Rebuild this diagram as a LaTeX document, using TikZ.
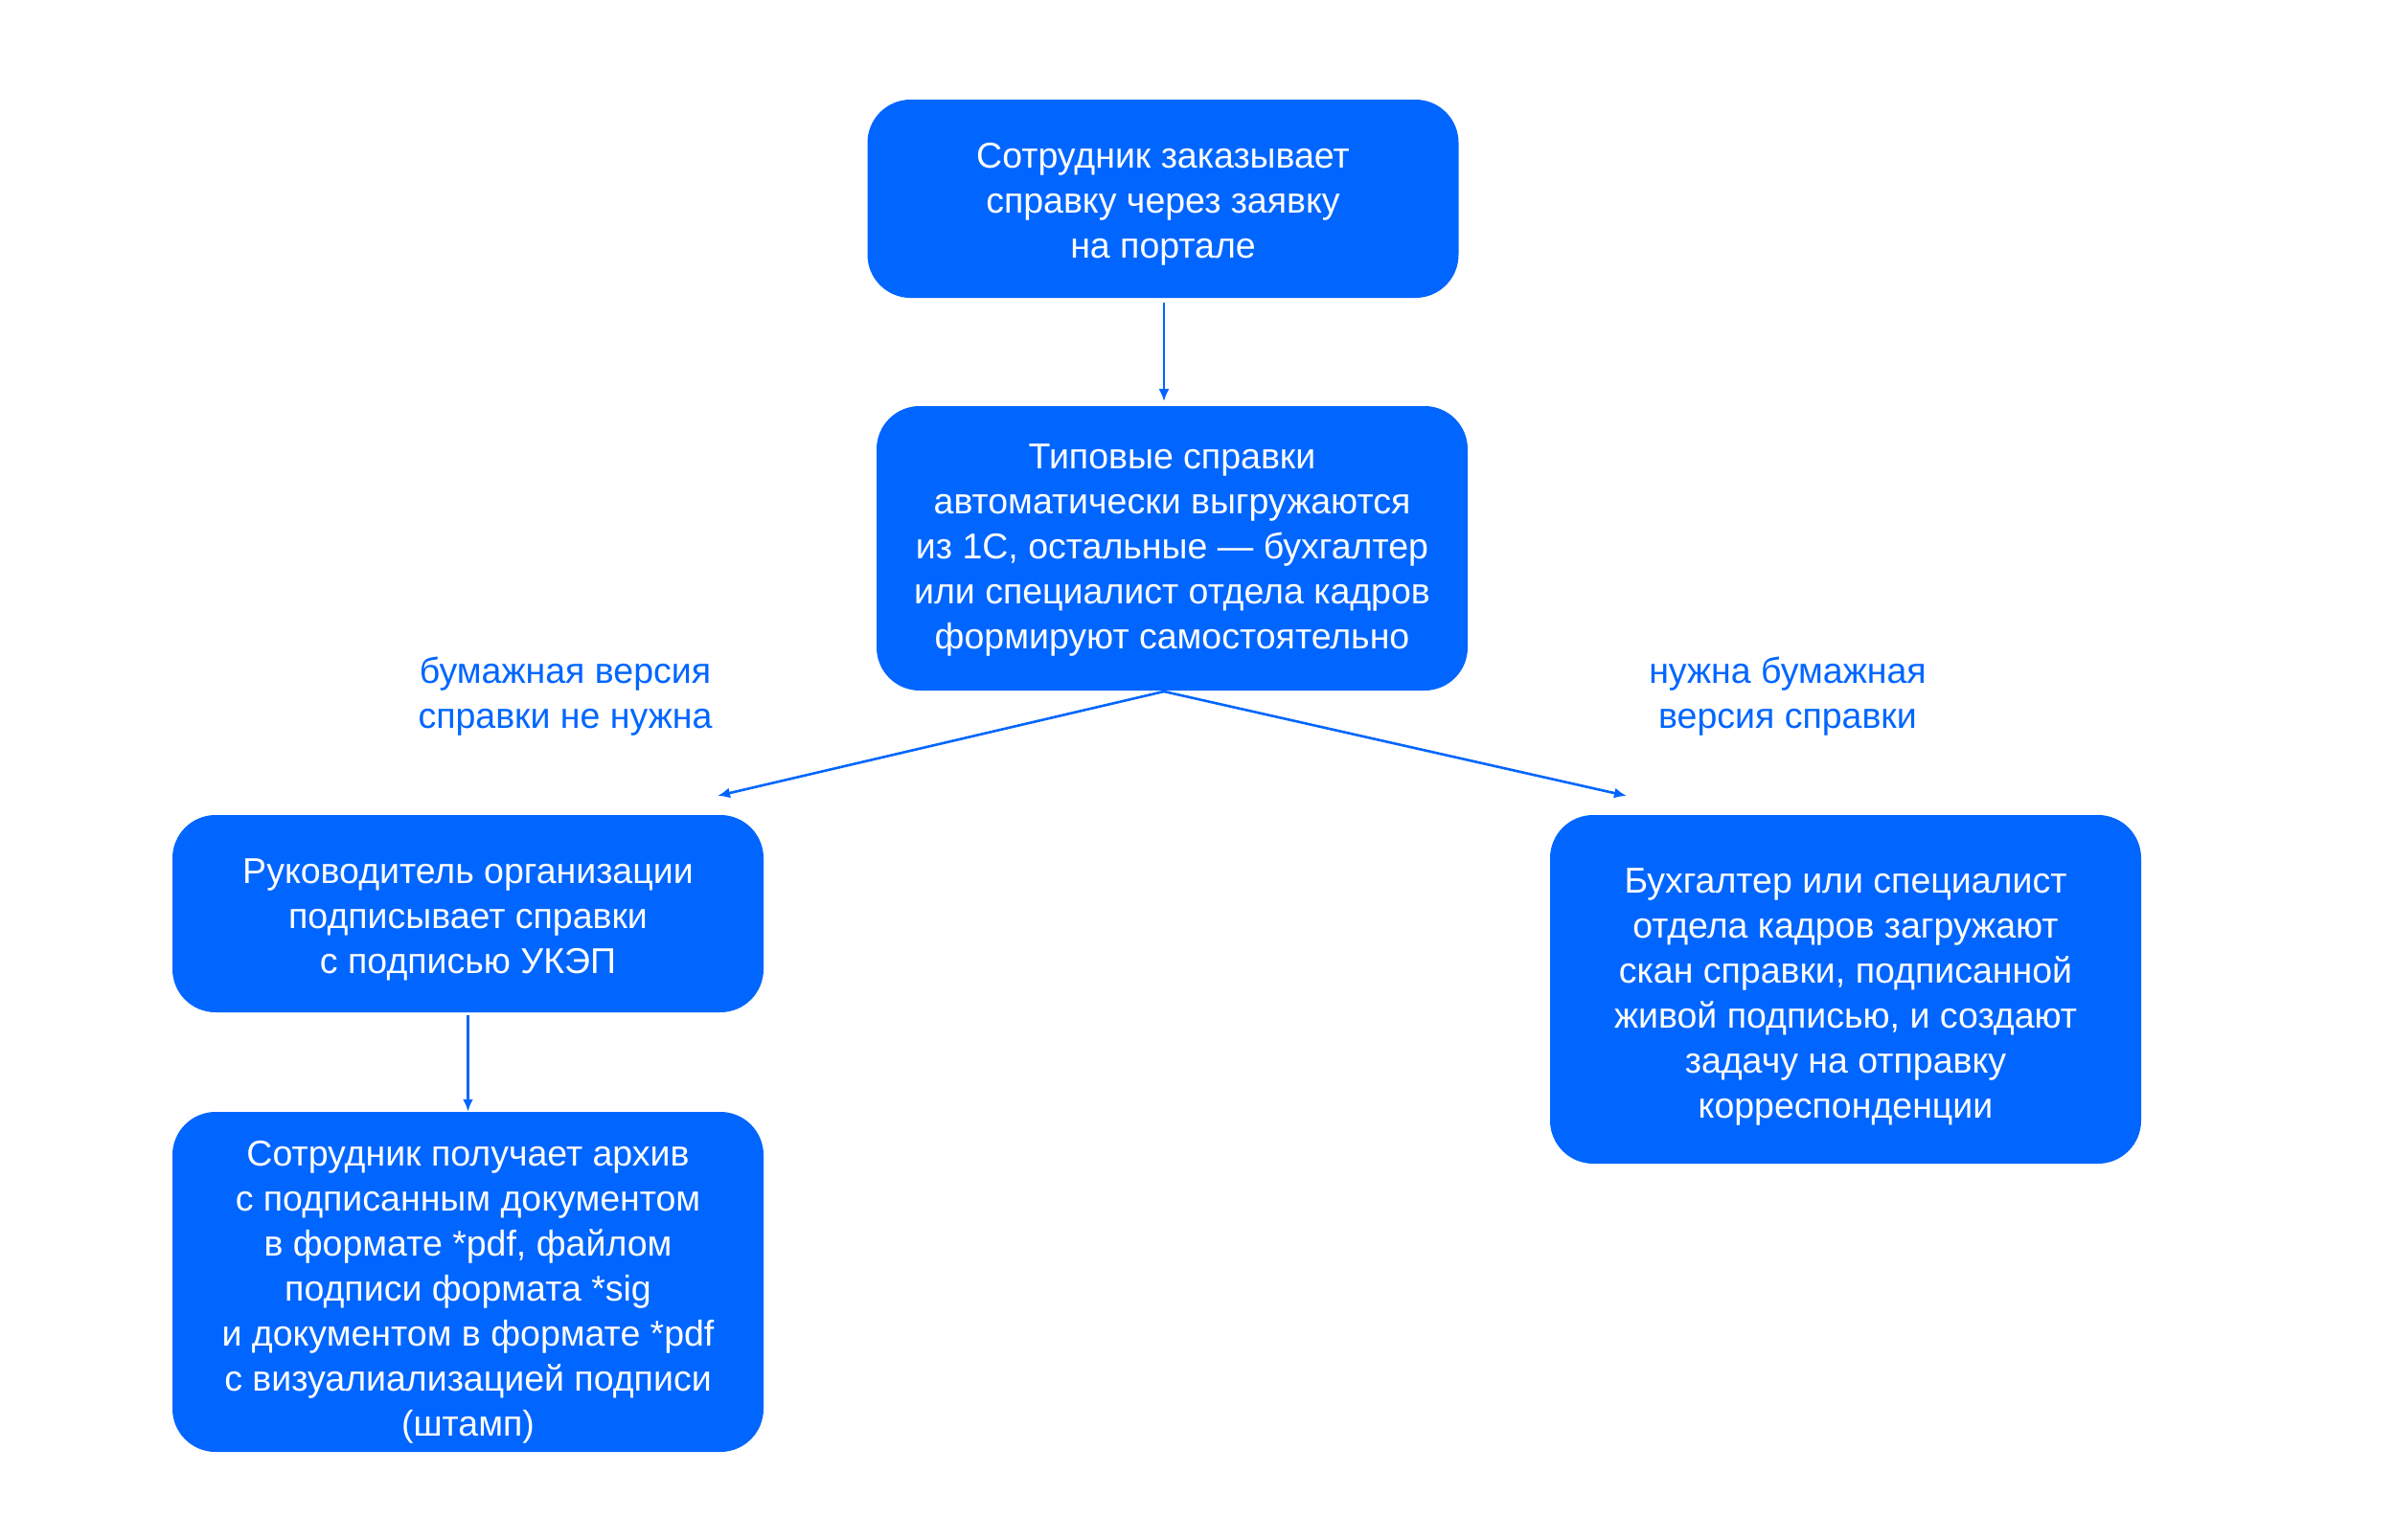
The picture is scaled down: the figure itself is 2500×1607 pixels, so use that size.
\documentclass[tikz,border=0pt]{standalone}
\usepackage{fontspec}
\setmainfont{Liberation Sans}
\usetikzlibrary{arrows.meta}
\definecolor{brand}{HTML}{0066FF}
\tikzset{
  box/.style={draw=none, fill=brand, rounded corners=45pt, inner sep=0pt, minimum width=617pt},
  txt/.style={text=white, align=center, font=\fontsize{37.5}{47}\selectfont, inner sep=0pt},
  lbl/.style={text=brand, align=center, font=\fontsize{37.5}{47}\selectfont, inner sep=0pt},
  conn/.style={draw=brand, line width=2.6pt, -{Latex[length=13pt,width=11pt]}}
}
\begin{document}
\begin{tikzpicture}[x=1pt,y=-1pt]
\useasboundingbox[fill=white] (0,0) rectangle (2500,1607);
\node[box, minimum height=207pt] (b1) at (1214,207.5) {};
\node[txt] (t1) at ([yshift=-6pt]b1.center)
  {Сотрудник заказывает\\справку через заявку\\на портале};
\node[box, minimum height=297pt] (b2) at (1223.5,572.5) {};
\node[txt] (t2) at ([yshift=-2pt]b2.center)
  {Типовые справки\\автоматически выгружаются\\из 1С, остальные — бухгалтер\\или специалист отдела кадров\\формируют самостоятельно};
\node[box, minimum height=206pt] (b3) at (488.5,954) {};
\node[txt] (t3) at ([yshift=-6pt]b3.center)
  {Руководитель организации\\подписывает справки\\с подписью УКЭП};
\node[box, minimum height=355pt] (b4) at (488.5,1338.5) {};
\node[txt] (t4) at ([yshift=-11pt]b4.center)
  {Сотрудник получает архив\\с подписанным документом\\в формате *pdf, файлом\\подписи формата *sig\\и документом в формате *pdf\\с визуалиализацией подписи\\(штамп)};
\node[box, minimum height=364pt] (b5) at (1926.5,1033) {};
\node[txt] (t5) at ([yshift=-8pt]b5.center)
  {Бухгалтер или специалист\\отдела кадров загружают\\скан справки, подписанной\\живой подписью, и создают\\задачу на отправку\\корреспонденции};
\node[lbl] (l1) at (590,727) {бумажная версия\\справки не нужна};
\node[lbl] (l2) at (1866,727) {нужна бумажная\\версия справки};
\coordinate (s2) at (1215,722);
\coordinate (eL) at (749,831);
\coordinate (eR) at (1698,831);
\draw[conn] (b1.south -| s2) ++(0,5) -- ++(0,103);
\draw[conn] (s2) -- (eL);
\draw[conn] (s2) -- (eR);
\draw[conn] (b3.south) ++(0,3) -- (b4.north);
\end{tikzpicture}
\end{document}
